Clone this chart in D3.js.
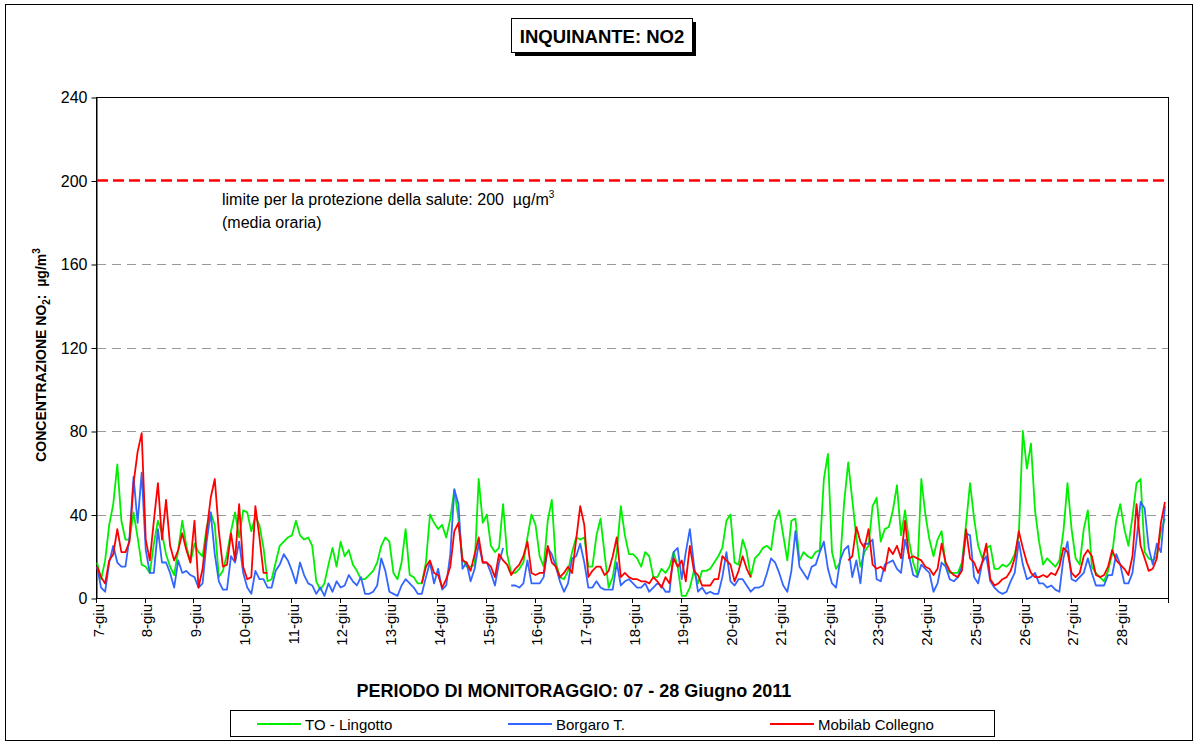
<!DOCTYPE html>
<html><head><meta charset="utf-8">
<script src="https://cdn.jsdelivr.net/npm/d3@7/dist/d3.min.js"></script>
<style>
body{margin:0;background:#fff;}
svg text{font-family:"Liberation Sans",Arial,sans-serif;fill:#000;white-space:pre;}
</style>
</head><body>
<svg id="chart" width="1198" height="746"></svg>
<script>
// ---------- DATA (2-hour samples, 7-28 June 2011) ----------
const days = ["7-giu","8-giu","9-giu","10-giu","11-giu","12-giu","13-giu","14-giu","15-giu","16-giu","17-giu",
  "18-giu","19-giu","20-giu","21-giu","22-giu","23-giu","24-giu","25-giu","26-giu","27-giu","28-giu"];
const yTicks = [0,40,80,120,160,200,240];
const seriesNames = ["TO - Lingotto","Borgaro T.","Mobilab Collegno"];
const limitValue = 200;
const hoursPerSample = 2;
const totalHours = 528;

const lingotto = [
 17,9,18,35,45,64,37,28,28,41,29,16,15,12,26,37,31,21,15,11,23,37,25,17,
 26,22,20,34,41,35,10,13,21,32,41,29,42,41,32,39,35,24,8,9,17,25,27,29,
 30,37,30,28,29,25,8,4,7,16,24,15,27,20,23,16,13,9,9,11,13,17,25,29,
 27,12,9,17,33,11,10,7,7,17,40,36,33,35,29,38,52,38,19,15,15,16,57,36,
 40,25,22,24,45,21,12,12,14,17,29,40,35,20,15,37,47,17,10,9,13,22,29,28,
 29,15,15,30,38,21,5,10,22,44,30,21,21,19,15,22,20,10,10,14,12,15,22,15,
 1,1,5,13,7,13,13,14,17,20,24,37,40,17,16,28,22,10,19,21,24,25,23,37,
 42,30,18,37,38,18,22,20,19,22,23,57,69,22,14,17,46,65,47,29,15,22,25,44,
 48,27,33,34,42,54,30,42,27,17,11,57,40,28,20,28,32,15,12,12,12,17,35,55,
 38,25,19,24,25,14,14,16,15,17,21,30,80,62,74,42,27,16,19,17,15,18,32,55,
 33,19,16,33,42,15,12,10,8,13,21,37,45,33,25,39,55,57,22,19,18,20,32,38
];
const borgaro = [
 15,5,3,17,25,17,15,15,29,58,36,60,23,12,12,33,17,17,12,5,18,12,13,11,
 10,5,7,27,41,21,8,4,4,20,17,27,12,5,2,13,9,9,5,5,13,16,21,18,
 13,7,17,11,7,6,2,5,1,7,3,8,5,6,11,8,6,10,2,2,3,6,19,13,
 3,2,1,6,9,7,5,2,2,10,17,7,14,4,6,21,52,45,14,17,8,14,26,17,
 17,12,6,17,24,null,6,6,5,7,18,7,7,7,10,24,21,15,8,3,7,19,20,26,
 17,5,5,8,5,4,4,4,17,6,8,9,7,5,5,7,3,5,7,6,3,3,22,24,
 9,22,33,16,3,5,2,3,2,2,10,22,8,6,9,9,6,3,5,5,6,12,19,17,
 12,6,3,13,32,15,12,9,15,16,22,27,14,7,5,18,23,25,10,18,7,26,26,28,
 9,8,16,17,18,14,12,28,20,11,10,16,14,12,3,7,17,15,9,8,10,15,31,30,
 10,7,17,20,8,5,3,2,3,8,12,27,16,9,10,12,7,7,5,6,4,3,19,27,
 9,8,10,12,19,12,6,6,6,11,11,21,16,7,7,12,28,46,43,24,16,26,22,44
];
const collegno = [
 15,10,7,18,21,33,22,22,27,55,70,79,28,18,37,55,28,47,25,18,23,31,23,17,
 37,5,14,32,48,57,32,15,16,31,18,45,15,9,10,44,29,12,12,null,null,null,null,null,
 null,null,null,null,null,null,null,null,null,null,null,null,null,null,null,null,null,null,null,null,null,null,null,null,
 null,null,null,null,null,null,null,null,7,15,18,12,11,5,9,15,32,36,18,17,13,21,29,17,
 17,15,10,21,18,16,11,14,16,20,27,12,11,12,12,25,17,15,10,12,15,12,28,44,
 35,10,13,15,15,11,13,20,29,10,12,10,9,9,8,8,7,10,8,5,10,7,19,15,
 18,8,25,13,11,6,6,6,9,9,20,18,16,8,13,20,14,10,null,null,null,null,null,null,
 null,null,null,null,null,null,null,null,null,null,null,null,null,null,null,null,null,18,20,34,27,24,33,16,
 14,15,13,24,21,25,19,37,19,20,19,18,15,14,11,14,26,17,13,11,10,13,33,19,
 17,12,17,26,9,6,7,9,10,13,19,32,24,17,12,10,10,11,10,12,11,15,24,22,
 12,10,12,20,23,20,11,10,11,15,23,18,16,14,11,20,45,25,19,13,14,19,36,46
];
const seriesData = [lingotto, borgaro, collegno];
const seriesColors = ["#00ee00","#3366ff","#ff0000"];

// ---------- LAYOUT ----------
const plot = {l:96, t:97, r:1168, b:598};
const svg = d3.select("#chart");
const font = '"Liberation Sans",Arial,sans-serif';

// outer frame
svg.append("rect").attr("x",5.5).attr("y",4.5).attr("width",1187).attr("height",736)
  .attr("fill","#fff").attr("stroke","#000").attr("stroke-width",1);

const x = d3.scaleLinear().domain([0,totalHours]).range([plot.l,plot.r]);
const y = d3.scaleLinear().domain([0,240]).range([plot.b,plot.t]);

// plot area
svg.append("rect").attr("x",plot.l+0.5).attr("y",plot.t+0.5)
  .attr("width",plot.r-plot.l).attr("height",plot.b-plot.t)
  .attr("fill","#fff").attr("stroke","#000").attr("stroke-width",1);

// gridlines
svg.append("g").selectAll("line").data(yTicks.filter(v=>v>0 && v<240 && v!==limitValue)).join("line")
  .attr("x1",plot.l+1).attr("x2",plot.r).attr("y1",d=>Math.round(y(d))+0.5).attr("y2",d=>Math.round(y(d))+0.5)
  .attr("stroke","#999").attr("stroke-width",1).attr("stroke-dasharray","9,6");

// y axis
const yAxis = d3.axisLeft(y).tickValues(yTicks).tickSize(5).tickPadding(4).tickSizeOuter(0);
const gy = svg.append("g").attr("transform",`translate(${plot.l+0.5},0.5)`).call(yAxis);
gy.select(".domain").attr("stroke","#000");
gy.selectAll(".tick line").attr("stroke","#000");
gy.selectAll(".tick text").attr("font-size",16).attr("font-family",font).attr("fill","#000");

// x axis ticks & labels
const gx = svg.append("g");
gx.append("line").attr("x1",plot.l).attr("x2",plot.r).attr("y1",plot.b+0.5).attr("y2",plot.b+0.5).attr("stroke","#000");
gx.selectAll("line.tk").data(d3.range(0,days.length+1)).join("line").attr("class","tk")
  .attr("x1",d=>Math.round(x(d*24))+0.5).attr("x2",d=>Math.round(x(d*24))+0.5)
  .attr("y1",plot.b).attr("y2",plot.b+5).attr("stroke","#000");
gx.selectAll("text").data(days).join("text")
  .attr("transform",(d,i)=>`translate(${x(i*24+1.2)},604) rotate(-90)`)
  .attr("text-anchor","end").attr("dy","0.35em")
  .attr("font-size",15).text(d=>d);

// limit line
svg.append("line").attr("x1",plot.l+1).attr("x2",plot.r).attr("y1",y(limitValue)).attr("y2",y(limitValue))
  .attr("stroke","#ff0000").attr("stroke-width",2.5).attr("stroke-dasharray","11,5");

// series lines
const line = d3.line()
  .defined(d=>d!=null)
  .x((d,i)=>x(i*hoursPerSample+0.5))
  .y(d=>y(d));
seriesData.forEach((s,k)=>{
  svg.append("path").datum(s).attr("d",line).attr("fill","none")
    .attr("stroke",seriesColors[k]).attr("stroke-width",1.8).attr("stroke-linejoin","round");
});

// annotation
const ann = svg.append("text").attr("x",222).attr("y",205).attr("font-size",16);
ann.append("tspan").text("limite per la protezione della salute: 200  µg/m");
ann.append("tspan").attr("font-size",10).attr("dy",-7).text("3");
svg.append("text").attr("x",222).attr("y",228).attr("font-size",16).text("(media oraria)");

// title box
svg.append("rect").attr("x",515).attr("y",22).attr("width",181).attr("height",34).attr("fill","#000");
svg.append("rect").attr("x",511.5).attr("y",18.5).attr("width",181).attr("height",34)
  .attr("fill","#fff").attr("stroke","#000").attr("stroke-width",1);
svg.append("text").attr("x",602).attr("y",43).attr("text-anchor","middle")
  .attr("font-size",18.5).attr("font-weight","bold").text("INQUINANTE: NO2");

// y axis title
const yt = svg.append("text").attr("transform","translate(46,355) rotate(-90)")
  .attr("text-anchor","middle").attr("font-size",14).attr("font-weight","bold");
yt.append("tspan").text("CONCENTRAZIONE NO");
yt.append("tspan").attr("font-size",10).attr("dy",4).text("2");
yt.append("tspan").attr("dy",-4).text(":  µg/m");
yt.append("tspan").attr("font-size",10).attr("dy",-6).text("3");

// x axis title
svg.append("text").attr("x",574).attr("y",697).attr("text-anchor","middle")
  .attr("font-size",18).attr("font-weight","bold").text("PERIODO DI MONITORAGGIO: 07 - 28 Giugno 2011");

// legend
svg.append("rect").attr("x",230.5).attr("y",710.5).attr("width",764).attr("height",26)
  .attr("fill","#fff").attr("stroke","#000");
const legX = [257, 508, 770];
const lg = svg.append("g").selectAll("g").data(seriesNames).join("g")
  .attr("transform",(d,i)=>`translate(${legX[i]},724)`);
lg.append("line").attr("x1",0).attr("x2",44).attr("y1",0).attr("y2",0)
  .attr("stroke",(d,i)=>seriesColors[i]).attr("stroke-width",1.8);
lg.append("text").attr("x",48).attr("y",5.5).attr("font-size",15).text(d=>d);
</script>
</body></html>
